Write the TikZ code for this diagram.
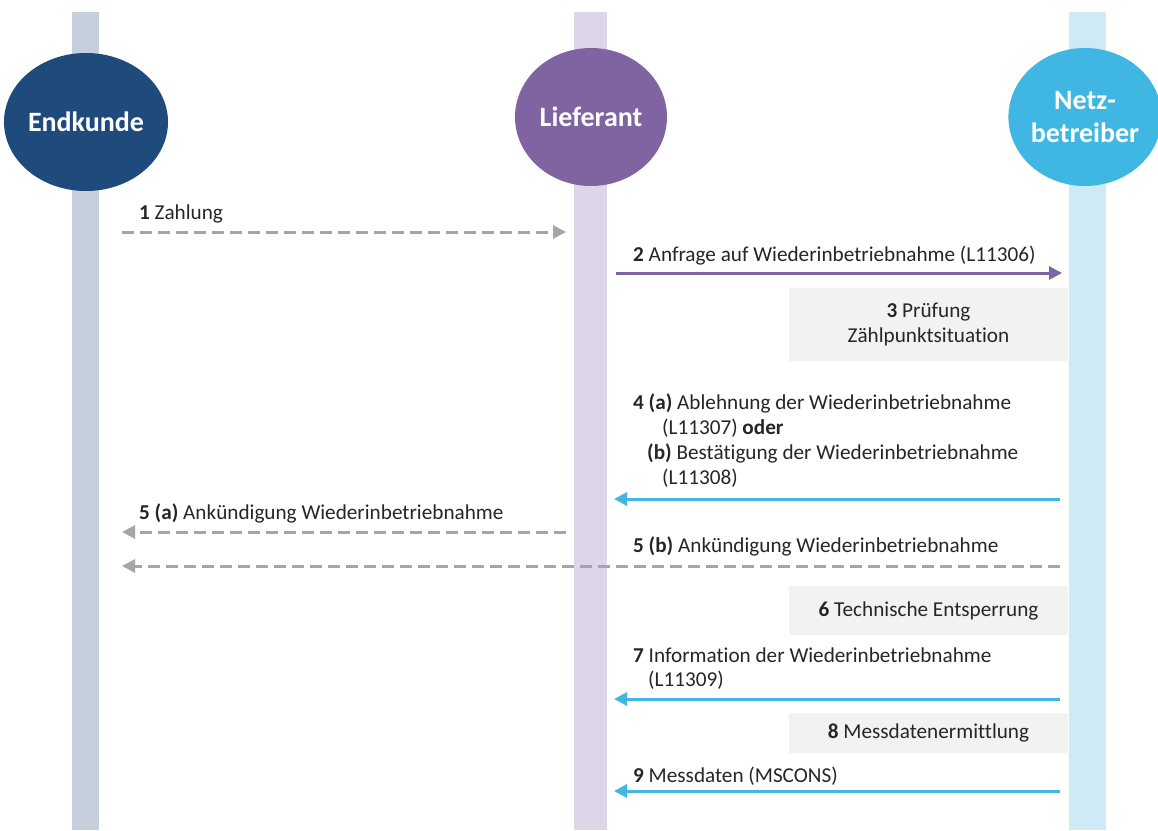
\documentclass[tikz,border=0pt]{standalone}
\usepackage{fontspec}
\setmainfont{Carlito}[Ligatures=NoCommon]
\usetikzlibrary{shapes.geometric,arrows.meta}
\definecolor{ekdark}{HTML}{1F4A7C}
\definecolor{ekbar}{HTML}{C6D0DD}
\definecolor{lfdark}{HTML}{8064A2}
\definecolor{lfbar}{HTML}{DDD6E8}
\definecolor{nbdark}{HTML}{40B7E3}
\definecolor{nbbar}{HTML}{CDEAF6}
\definecolor{dgray}{HTML}{A6A6A6}
\definecolor{boxgray}{HTML}{F2F2F2}
\definecolor{txt}{HTML}{262626}
\tikzset{
  actor/.style={ellipse, minimum width=152pt, minimum height=138pt, inner sep=0pt,
    text=white, font=\fontsize{28}{33}\selectfont\bfseries, align=center},
  lbl/.style={anchor=base west, inner sep=0pt, text=txt, font=\fontsize{21.2}{25}\selectfont},
  stepbox/.style={fill=boxgray, inner sep=0pt, text=txt, align=center,
    font=\fontsize{21.2}{25}\selectfont},
  msgdash/.style={draw=dgray, line width=3pt, dash pattern=on 12pt off 6pt,
    -{Triangle[length=13pt,width=13pt]}, dgray},
  msgpurple/.style={draw=lfdark, line width=3pt, -{Triangle[length=13pt,width=13pt]}, lfdark},
  msgblue/.style={draw=nbdark, line width=3pt, -{Triangle[length=13pt,width=13pt]}, nbdark},
}
\begin{document}
\begin{tikzpicture}[x=1pt,y=-1pt]
\useasboundingbox (0,0) rectangle (1158,830);
\fill[white] (0,0) rectangle (1158,830);
% lifelines
\fill[ekbar] (72,12) rectangle (99,830);
\fill[lfbar] (574,12) rectangle (607,830);
\fill[nbbar] (1069,12) rectangle (1106,830);
% actors
\node[actor, fill=ekdark] (ek) at (86,122) {Endkunde};
\node[actor, fill=lfdark] (lf) at (591,117) {Lieferant};
\node[actor, fill=nbdark] (nb) at (1085,117) {Netz-\\betreiber};
% coordinates
\coordinate (e1) at (122,232); \coordinate (l1) at (566,232);
\coordinate (l2) at (616,273); \coordinate (n2) at (1062,273);
\coordinate (n4) at (1060,499); \coordinate (l4) at (614,499);
\coordinate (l5) at (566,532); \coordinate (e5) at (122,532);
\coordinate (n5) at (1060,566); \coordinate (e5b) at (122,566);
\coordinate (n7) at (1060,699); \coordinate (l7) at (614,699);
\coordinate (n9) at (1060,791); \coordinate (l9) at (614,791);
% messages
\draw[msgdash] (e1) -- (l1);
\node[lbl] (t1) at (139,219) {\textbf{1} Zahlung};
\draw[msgpurple] (l2) -- (n2);
\node[lbl] (t2) at (633,261) {\textbf{2} Anfrage auf Wiederinbetriebnahme (L11306)};
\node[stepbox, minimum width=279pt, minimum height=73pt] (b3) at (928.5,324.5) {\textbf{3} Prüfung\\Zählpunktsituation};
\node[lbl] (t4a) at (633,409) {\textbf{4 (a)} Ablehnung der Wiederinbetriebnahme};
\node[lbl] (t4b) at (662,434) {(L11307) \textbf{oder}};
\node[lbl] (t4c) at (647,459) {\textbf{(b)} Bestätigung der Wiederinbetriebnahme};
\node[lbl] (t4d) at (662,484) {(L11308)};
\draw[msgblue] (n4) -- (l4);
\node[lbl] (t5a) at (139,519) {\textbf{5 (a)} Ankündigung Wiederinbetriebnahme};
\draw[msgdash] (l5) -- (e5);
\node[lbl] (t5b) at (633,552) {\textbf{5 (b)} Ankündigung Wiederinbetriebnahme};
\draw[msgdash] (n5) -- (e5b);
\node[stepbox, minimum width=279pt, minimum height=49pt] (b6) at (928.5,610.5) {\textbf{6} Technische Entsperrung};
\node[lbl] (t7a) at (633,662) {\textbf{7} Information der Wiederinbetriebnahme};
\node[lbl] (t7b) at (648,686) {(L11309)};
\draw[msgblue] (n7) -- (l7);
\node[stepbox, minimum width=279pt, minimum height=40pt] (b8) at (928.5,733) {\textbf{8} Messdatenermittlung};
\node[lbl] (t9) at (633,782) {\textbf{9} Messdaten (MSCONS)};
\draw[msgblue] (n9) -- (l9);
\end{tikzpicture}
\end{document}
